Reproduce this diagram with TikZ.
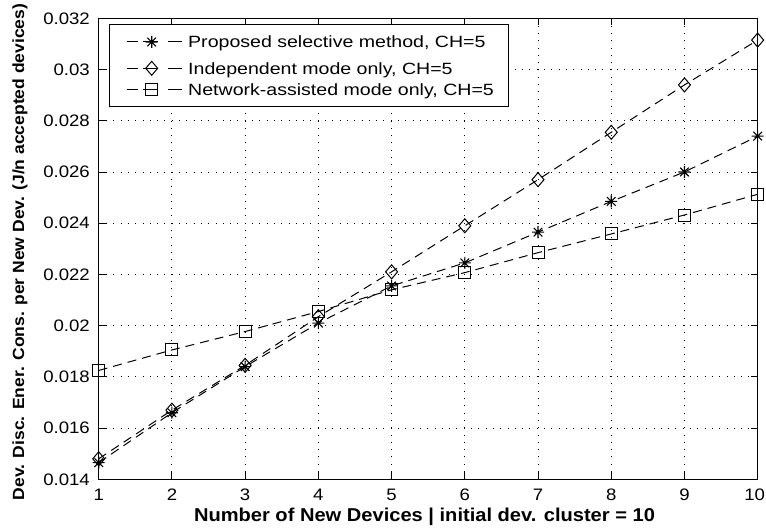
\documentclass[tikz,border=0pt]{standalone}
\usepackage{fontspec}
\setmainfont{Liberation Sans}
\newfontfamily\tickfont{Liberation Sans}[FakeStretch=1.12]
\newfontfamily\legfont{Liberation Sans}[FakeStretch=1.2]
\newfontfamily\labfont{Liberation Sans}[FakeStretch=1.08]

\tikzset{
  gridline/.style={line width=0.9pt, dash pattern=on 1pt off 6.3pt},
  tickline/.style={line width=0.9pt},
  axisline/.style={line width=1.3pt},
  series/.style={line width=1pt, dash pattern=on 9pt off 6pt},
  ticklabel/.style={font=\tickfont\fontsize{16.6}{18}\selectfont, inner sep=0pt},
  legtext/.style={font=\legfont\fontsize{16.3}{18}\selectfont, inner sep=0pt, anchor=base west},
  axislabel/.style={font=\labfont\bfseries\fontsize{18.6}{20}\selectfont, inner sep=0pt},
  starmark/.pic={
    \draw[line width=1.1pt] (-6pt,0pt) -- (6pt,0pt) (0pt,-6pt) -- (0pt,6pt)
      (-4.3pt,-4.3pt) -- (4.3pt,4.3pt) (-4.3pt,4.3pt) -- (4.3pt,-4.3pt);
  },
  diamark/.pic={
    \draw[line width=1pt] (-6pt,0pt) -- (0pt,7pt) -- (6pt,0pt) -- (0pt,-7pt) -- cycle;
  },
  sqmark/.pic={
    \draw[line width=1pt] (-6pt,-6pt) rectangle (6pt,6pt);
  }
}

\begin{document}
\begin{tikzpicture}[x=1pt,y=1pt]
\useasboundingbox (0,0) rectangle (766,528);
\fill[white] (0,0) rectangle (766,528);

% data axes: x = number of new devices, y = energy in units of 0.001
\begin{scope}[shift={(25.48pt,-309.84pt)}, x=73.22pt, y=25.61pt]
  % grid
  \foreach \i in {2,...,9}
    \draw[gridline] (\i,14) -- (\i,32);
  \foreach \v in {16,18,...,30}
    \draw[gridline] (1,\v) -- (10,\v);
  % ticks on all four sides
  \foreach \i in {1,...,10} {
    \draw[tickline] (\i,14) -- ++(0pt,7pt);
    \draw[tickline] (\i,32) -- ++(0pt,-7pt);
  }
  \foreach \v in {14,16,...,32} {
    \draw[tickline] (1,\v) -- ++(7pt,0pt);
    \draw[tickline] (10,\v) -- ++(-7pt,0pt);
  }
  % frame
  \draw[axisline] (1,14) rectangle (10,32);
  % tick labels (the last one kept inside the page edge)
  \foreach \i in {1,...,9}
    \node[ticklabel] (xt\i) at ([yshift=-15.6pt]\i,14) {\i};
  \node[ticklabel] (xt10) at ([yshift=-15.6pt, xshift=-3pt]10,14) {10};
  \foreach \v/\t in {14/0.014,16/0.016,18/0.018,20/0.02,22/0.022,24/0.024,26/0.026,28/0.028,30/0.03,32/0.032}
    \node[ticklabel, anchor=east] (yt\v) at ([xshift=-8.7pt]1,\v) {\t};

  % independent mode only
  \draw[series] plot coordinates {(1,14.8) (2,16.7) (3,18.45) (4,20.35) (5,22.1) (6,23.9) (7,25.7) (8,27.55) (9,29.4) (10,31.15)};
  % network-assisted mode only
  \draw[series] plot coordinates {(1,18.25) (2,19.05) (3,19.77) (4,20.55) (5,21.4) (6,22.07) (7,22.85) (8,23.58) (9,24.32) (10,25.13)};
  % proposed selective method
  \draw[series] plot coordinates {(1,14.65) (2,16.6) (3,18.4) (4,20.1) (5,21.55) (6,22.45) (7,23.65) (8,24.85) (9,26.0) (10,27.4)};

  \foreach \i/\v in {1/14.8,2/16.7,3/18.45,4/20.35,5/22.1,6/23.9,7/25.7,8/27.55,9/29.4,10/31.15}
    \pic at (\i,\v) {diamark};
  \foreach \i/\v in {1/18.25,2/19.05,3/19.77,4/20.55,5/21.4,6/22.07,7/22.85,8/23.58,9/24.32,10/25.13}
    \pic at (\i,\v) {sqmark};
  \foreach \i/\v in {1/14.65,2/16.6,3/18.4,4/20.1,5/21.55,6/22.45,7/23.65,8/24.85,9/26.0,10/27.4}
    \pic at (\i,\v) {starmark};
\end{scope}

% legend
\draw[line width=1pt, fill=white] (109.3,421.3) rectangle (508.3,503);
\foreach \y/\m/\t [count=\k] in {486/starmark/{Proposed selective method, CH=5},
                                 459.7/diamark/{Independent mode only, CH=5},
                                 438/sqmark/{Network-assisted mode only, CH=5}} {
  \coordinate (ls\k) at (126.7,\y);
  \coordinate (le\k) at (181.7,\y);
  \draw[line width=1pt, dash pattern=on 11.6pt off 4.7pt on 15pt off 10pt on 14pt] (ls\k) -- (le\k);
  \pic at (151.7,\y) {\m};
  \node[legtext] (lt\k) at (188,\y-5.9) {\t};
}

% axis titles
\node[axislabel] (xlab) at (424.5,11) {Number of New Devices | initial dev. cluster = 10};
\node[axislabel, rotate=90, font=\labfont\bfseries\fontsize{16.2}{18}\selectfont] (ylab) at (20,276)
  {Dev. Disc. Ener. Cons. per New Dev. (J/n accepted devices)};
\end{tikzpicture}
\end{document}
